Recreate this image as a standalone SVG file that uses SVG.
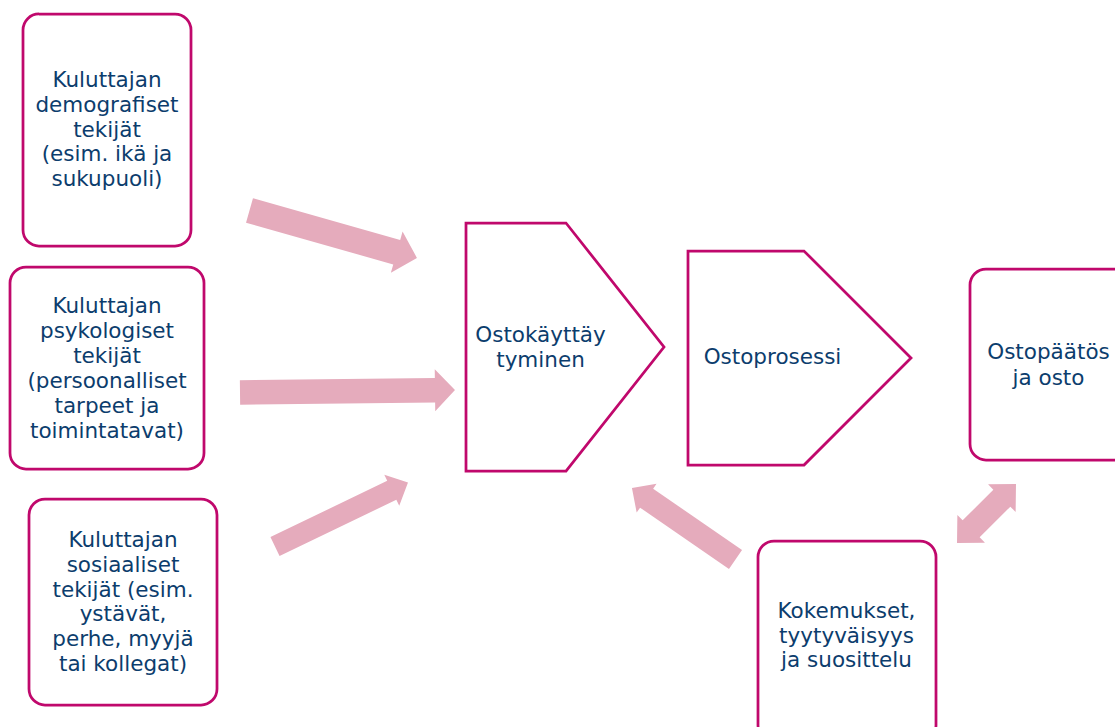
<svg xmlns="http://www.w3.org/2000/svg" width="1115" height="727" viewBox="0 0 1115 727">
<style>
.box{fill:#ffffff;stroke:#C0086C;stroke-width:2.75}
.arr{fill:#E5ABBC;stroke:none}
.t{font-family:"DejaVu Sans","Liberation Sans",sans-serif;font-size:21.5px;fill:#0C3D6D;text-anchor:middle}
</style>
<rect width="1115" height="727" fill="#ffffff"/>
<g id="connectors">
<polygon class="arr" transform="translate(249.5,210.5) rotate(15.8)" points="0,-12.75 153,-12.75 153,-21.5 174,0 153,21.5 153,12.75 0,12.75"/>
<polygon class="arr" transform="translate(240,392.5) rotate(-0.67)" points="0,-12.25 195,-12.25 195,-21 215,0 195,21 195,12.25 0,12.25"/>
<polygon class="arr" transform="translate(275,546.5) rotate(-25.7)" points="0,-10.5 129.6,-10.5 129.6,-17.25 147.6,0 129.6,17.25 129.6,10.5 0,10.5"/>
<polygon class="arr" transform="translate(735.5,559.5) rotate(214.6)" points="0,-11.5 108,-11.5 108,-17.5 125.8,0 108,17.5 108,11.5 0,11.5"/>
<polygon class="arr" transform="translate(986.5,513.5) rotate(-45)" points="-41.7,0 -21.7,-19.5 -21.7,-12 21.7,-12 21.7,-19.5 41.7,0 21.7,19.5 21.7,12 -21.7,12 -21.7,19.5"/>
</g>
<g id="node-demografiset">
<rect class="box" x="23" y="14" width="168" height="232" rx="16"/>
<text class="t"><tspan x="107" y="87">Kuluttajan</tspan><tspan x="107" y="112">demografiset</tspan><tspan x="107" y="137">tekijät</tspan><tspan x="107" y="161">(esim. ikä ja</tspan><tspan x="107" y="186">sukupuoli)</tspan></text>
</g>
<g id="node-psykologiset">
<rect class="box" x="10" y="267" width="194" height="202" rx="16"/>
<text class="t"><tspan x="107" y="313">Kuluttajan</tspan><tspan x="107" y="338">psykologiset</tspan><tspan x="107" y="363">tekijät</tspan><tspan x="107" y="388">(persoonalliset</tspan><tspan x="107" y="413">tarpeet ja</tspan><tspan x="107" y="438">toimintatavat)</tspan></text>
</g>
<g id="node-sosiaaliset">
<rect class="box" x="29" y="499" width="188" height="206" rx="16"/>
<text class="t"><tspan x="123" y="547">Kuluttajan</tspan><tspan x="123" y="572">sosiaaliset</tspan><tspan x="123" y="597">tekijät (esim.</tspan><tspan x="123" y="621">ystävät,</tspan><tspan x="123" y="646">perhe, myyjä</tspan><tspan x="123" y="671">tai kollegat)</tspan></text>
</g>
<g id="node-ostokayttaytyminen">
<polygon class="box" points="466,223 566,223 664,347 566,471 466,471"/>
<text class="t"><tspan x="540.5" y="342">Ostokäyttäy</tspan><tspan x="540.5" y="367">tyminen</tspan></text>
</g>
<g id="node-ostoprosessi">
<polygon class="box" points="688,251 804,251 911,358 804,465 688,465"/>
<text class="t"><tspan x="772.5" y="364">Ostoprosessi</tspan></text>
</g>
<g id="node-ostopaatos">
<rect class="box" x="970" y="269" width="170" height="191" rx="16"/>
<text class="t"><tspan x="1048.5" y="359">Ostopäätös</tspan><tspan x="1048.5" y="385">ja osto</tspan></text>
</g>
<g id="node-kokemukset">
<rect class="box" x="758" y="541" width="178" height="200" rx="16"/>
<text class="t"><tspan x="846.5" y="618">Kokemukset,</tspan><tspan x="846.5" y="643">tyytyväisyys</tspan><tspan x="846.5" y="667">ja suosittelu</tspan></text>
</g>
</svg>
